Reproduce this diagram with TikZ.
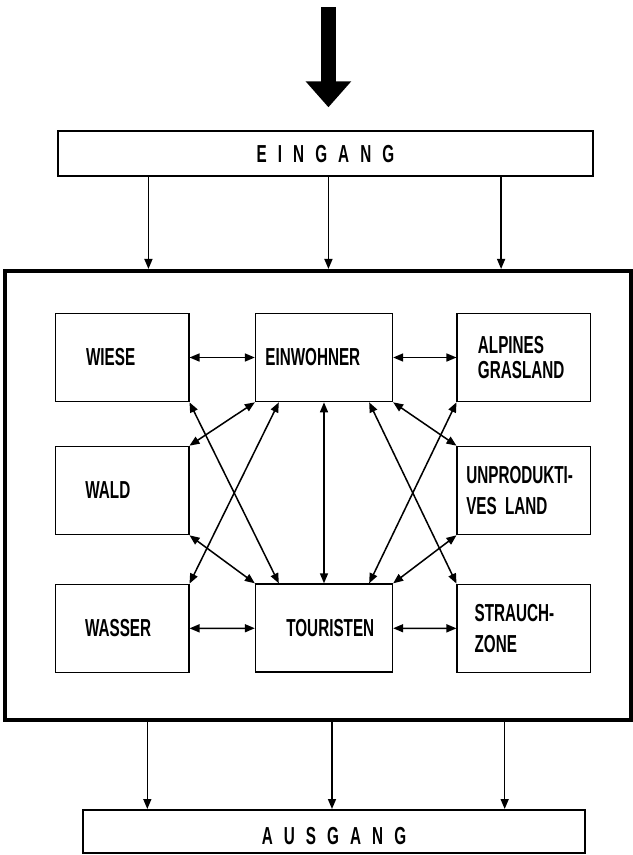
\documentclass[tikz,border=0pt]{standalone}
\usepackage{fontspec}
\usepackage{tikz}
\usetikzlibrary{arrows.meta, positioning, fit}

\newfontfamily\boxfont{Liberation Sans Bold}[FakeStretch=0.62]
\newfontfamily\barfont{Liberation Sans Bold}[FakeStretch=0.62, LetterSpace=45]

\begin{document}
\begin{tikzpicture}[
    box/.style={rectangle, draw, line width=1.4pt, minimum height=2.64cm, inner ysep=0pt, align=left, font={\boxfont\fontsize{21pt}{21pt}\selectfont}},
    bar/.style={rectangle, draw, line width=1.4pt, inner ysep=0pt, font={\barfont\fontsize{21pt}{21pt}\selectfont}},
    frame/.style={rectangle, draw, line width=3.8pt},
    link/.style={line width=1.3pt, <->},
    arrow/.style={line width=1.3pt, ->},
    bigarrow/.style={line width=0.45cm, -{Triangle[length=0.78cm, width=1.32cm]}, shorten >=0.69cm},
    >={Triangle[length=0.3cm, width=0.24cm]}
]
\path[use as bounding box, fill=white] (0,0) rectangle (18.99,-25.65);

% Mittlere Spalte
\node (einwohner) [box, inner xsep=0.29cm, text width=3.52cm] at (9.72,-10.725) {EINWOHNER};
\node (touristen) [box, inner xsep=0.92cm, text width=2.26cm, below=5.43cm of einwohner] {TOURISTEN};

% Linke Spalte
\node (wiese) [box, inner xsep=0.92cm, text width=2.16cm, left=1.96cm of einwohner] {WIESE};
\node (wald) [box, inner xsep=0.9cm, text width=2.2cm, below=1.3cm of wiese] {WALD};
\node (wasser) [box, inner xsep=0.89cm, text width=2.22cm, below=1.45cm of wald] {WASSER};

% Rechte Spalte
\node (alpines) [box, inner xsep=0.62cm, text width=2.76cm, right=1.9cm of einwohner] {ALPINES\\GRASLAND};
\node (unproduktiv) [box, inner xsep=0.27cm, text width=3.46cm, below=1.3cm of alpines] {UNPRODUKTI-\\[6pt]VES LAND};
\node (strauch) [box, inner xsep=0.52cm, text width=2.96cm, below=1.45cm of unproduktiv] {STRAUCH-\\[6pt]ZONE};

% System
\node (system) [frame, fit=(wiese) (strauch), inner xsep=1.34cm, inner ysep=1.32cm, xshift=-0.147cm, yshift=-0.075cm] {};

% Eingang und Ausgang
\node (eingang) [bar, minimum width=16.05cm, minimum height=1.35cm, above=2.76cm of system, xshift=0.22cm] {EINGANG};
\node (ausgang) [bar, minimum width=15.06cm, minimum height=1.3cm, text height=0.8cm, below=2.61cm of system, xshift=0.477cm] {AUSGANG};
\coordinate [above=3.69cm of eingang.north, xshift=0.09cm] (input);

% Pfeile
\draw [bigarrow] (input) -- (input |- eingang.north);
\foreach \dx in {-5.31, 0.09, 5.27}
    \draw [arrow] ([xshift=\dx cm]eingang.south) -- ([xshift=\dx cm]eingang.south |- system.north);
\foreach \dx in {-5.6, -0.06, 5.12}
    \draw [arrow] ([xshift=\dx cm]ausgang.north |- system.south) -- ([xshift=\dx cm]ausgang.north);

\draw [link] (wiese) -- (einwohner);
\draw [link] (einwohner) -- (alpines);
\draw [link] (wasser) -- (touristen);
\draw [link] (touristen) -- (strauch);
\draw [link] (einwohner) -- (touristen);

\draw [link] (einwohner.south west) -- (wald.north east);
\draw [link] (einwohner.south east) -- (unproduktiv.north west);
\draw [link] (wald.south east) -- (touristen.north west);
\draw [link] (unproduktiv.south west) -- (touristen.north east);

\draw [link] (wiese.south east) -- ([xshift=0.72cm]touristen.north west);
\draw [link] ([xshift=0.72cm]einwohner.south west) -- (wasser.north east);
\draw [link] (alpines.south west) -- ([xshift=-0.72cm]touristen.north east);
\draw [link] ([xshift=-0.72cm]einwohner.south east) -- (strauch.north west);

\end{tikzpicture}
\end{document}
